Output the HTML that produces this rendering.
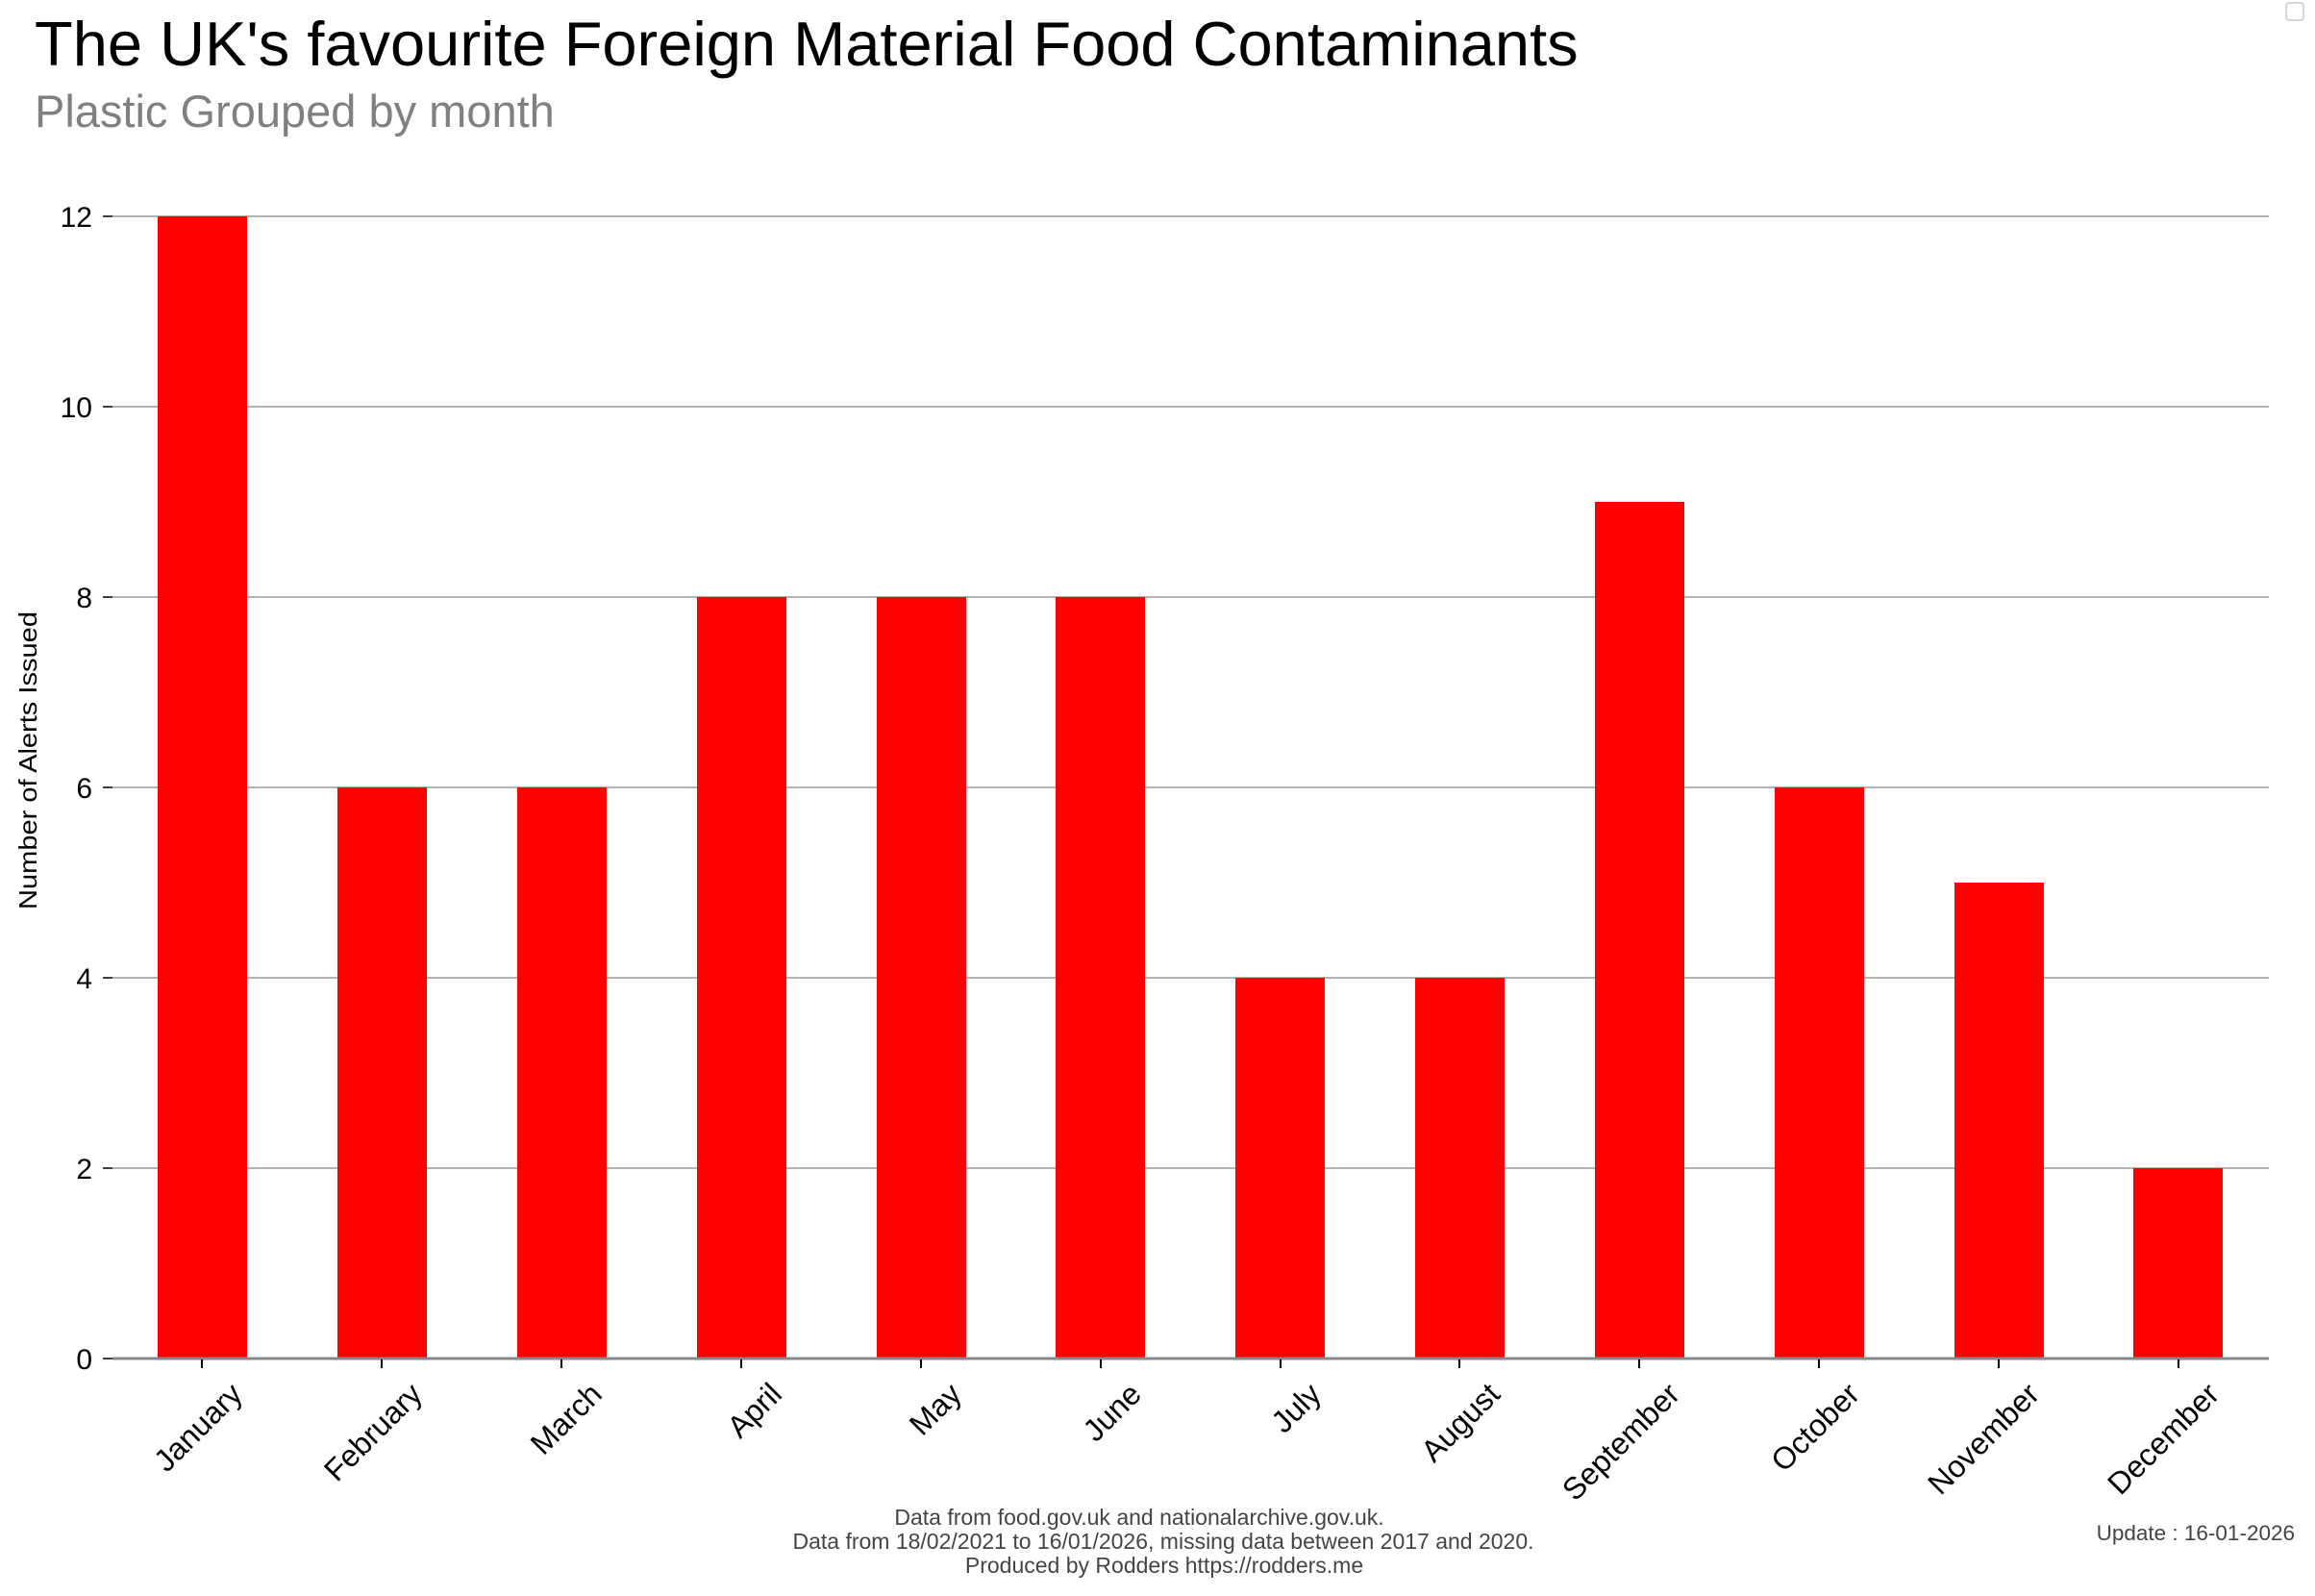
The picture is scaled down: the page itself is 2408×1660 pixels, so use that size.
<!DOCTYPE html>
<html><head><meta charset="utf-8"><style>
html,body{margin:0;padding:0;background:#fff;}
svg{display:block;font-family:"Liberation Sans",sans-serif;}
</style></head><body>
<svg width="2408" height="1660" viewBox="0 0 2408 1660" xmlns="http://www.w3.org/2000/svg">
<rect width="2408" height="1660" fill="#fff"/>
<text x="36" y="68" font-size="65" fill="#000">The UK's favourite Foreign Material Food Contaminants</text>
<text x="36" y="132" font-size="47" fill="#808080">Plastic Grouped by month</text>
<rect x="2378" y="3" width="18" height="18" rx="3" fill="none" stroke="#ccc" stroke-width="1.5"/>
<g stroke="#999" stroke-width="1.5">
<line x1="117" y1="225" x2="2360" y2="225"/>
<line x1="117" y1="423" x2="2360" y2="423"/>
<line x1="117" y1="621" x2="2360" y2="621"/>
<line x1="117" y1="819" x2="2360" y2="819"/>
<line x1="117" y1="1017" x2="2360" y2="1017"/>
<line x1="117" y1="1215" x2="2360" y2="1215"/>
</g>
<g stroke="#000" stroke-width="1.5">
<line x1="107" y1="225" x2="117" y2="225"/><line x1="107" y1="423" x2="117" y2="423"/>
<line x1="107" y1="621" x2="117" y2="621"/><line x1="107" y1="819" x2="117" y2="819"/>
<line x1="107" y1="1017" x2="117" y2="1017"/><line x1="107" y1="1215" x2="117" y2="1215"/>
<line x1="107" y1="1413" x2="117" y2="1413"/>
</g>
<g font-size="30" text-anchor="end" fill="#000">
<text x="96" y="236">12</text><text x="96" y="434">10</text><text x="96" y="632">8</text>
<text x="96" y="830">6</text><text x="96" y="1028">4</text><text x="96" y="1226">2</text><text x="96" y="1424">0</text>
</g>
<text transform="translate(38,791) rotate(-90)" text-anchor="middle" font-size="26" fill="#000" textLength="310" lengthAdjust="spacingAndGlyphs">Number of Alerts Issued</text>
<g fill="#ff0000">
<rect x="164" y="225" width="93" height="1188"/>
<rect x="351" y="819" width="93" height="594"/>
<rect x="538" y="819" width="93" height="594"/>
<rect x="725" y="621" width="93" height="792"/>
<rect x="912" y="621" width="93" height="792"/>
<rect x="1098" y="621" width="93" height="792"/>
<rect x="1285" y="1017" width="93" height="396"/>
<rect x="1472" y="1017" width="93" height="396"/>
<rect x="1659" y="522" width="93" height="891"/>
<rect x="1846" y="819" width="93" height="594"/>
<rect x="2033" y="918" width="93" height="495"/>
<rect x="2219" y="1215" width="93" height="198"/>
</g>
<line x1="117" y1="1413" x2="2360" y2="1413" stroke="#888" stroke-width="3"/>
<g stroke="#000" stroke-width="2">
<line x1="210" y1="1414" x2="210" y2="1423"/><line x1="397" y1="1414" x2="397" y2="1423"/>
<line x1="584" y1="1414" x2="584" y2="1423"/><line x1="771" y1="1414" x2="771" y2="1423"/>
<line x1="958" y1="1414" x2="958" y2="1423"/><line x1="1145" y1="1414" x2="1145" y2="1423"/>
<line x1="1332" y1="1414" x2="1332" y2="1423"/><line x1="1518" y1="1414" x2="1518" y2="1423"/>
<line x1="1705" y1="1414" x2="1705" y2="1423"/><line x1="1892" y1="1414" x2="1892" y2="1423"/>
<line x1="2079" y1="1414" x2="2079" y2="1423"/><line x1="2266" y1="1414" x2="2266" y2="1423"/>
</g>
<g font-size="32" text-anchor="end" fill="#000">
<text transform="translate(254,1452) rotate(-45)">January</text>
<text transform="translate(441,1452) rotate(-45)">February</text>
<text transform="translate(628,1452) rotate(-45)">March</text>
<text transform="translate(815,1452) rotate(-45)">April</text>
<text transform="translate(1002,1452) rotate(-45)">May</text>
<text transform="translate(1189,1452) rotate(-45)">June</text>
<text transform="translate(1376,1452) rotate(-45)">July</text>
<text transform="translate(1562,1452) rotate(-45)">August</text>
<text transform="translate(1749,1452) rotate(-45)">September</text>
<text transform="translate(1936,1452) rotate(-45)">October</text>
<text transform="translate(2123,1452) rotate(-45)">November</text>
<text transform="translate(2310,1452) rotate(-45)">December</text>
</g>
<g font-size="23" text-anchor="middle" fill="#444">
<text x="1185" y="1586">Data from food.gov.uk and nationalarchive.gov.uk.</text>
<text x="1210" y="1611">Data from 18/02/2021 to 16/01/2026, missing data between 2017 and 2020.</text>
<text x="1211" y="1636">Produced by Rodders https://rodders.me</text>
</g>
<text x="2387" y="1602" font-size="22.5" text-anchor="end" fill="#444">Update : 16-01-2026</text>
</svg>
</body></html>
